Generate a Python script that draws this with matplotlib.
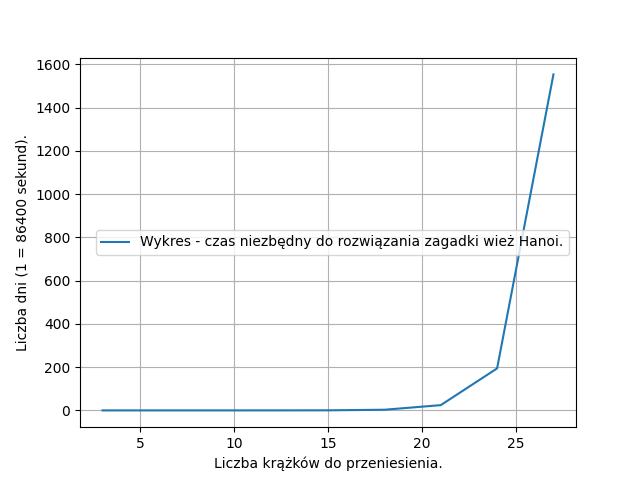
import matplotlib
matplotlib.use("Agg")
import matplotlib.pyplot as plt

# number of disks and time needed (in days)
disks = [3, 6, 9, 12, 15, 18, 21, 24, 27]
days = [0.0001, 0.0007, 0.0059, 0.047, 0.38, 3.03, 24.27, 194.18, 1553.45]

plt.figure(figsize=(6.4, 4.8), dpi=100)
plt.plot(disks, days, label="Wykres - czas niezbędny do rozwiązania zagadki wież Hanoi.")
plt.xlabel("Liczba krążków do przeniesienia.")
plt.ylabel("Liczba dni (1 = 86400 sekund).")
plt.grid(True)
plt.legend(loc="center right")

plt.savefig("out.png")
